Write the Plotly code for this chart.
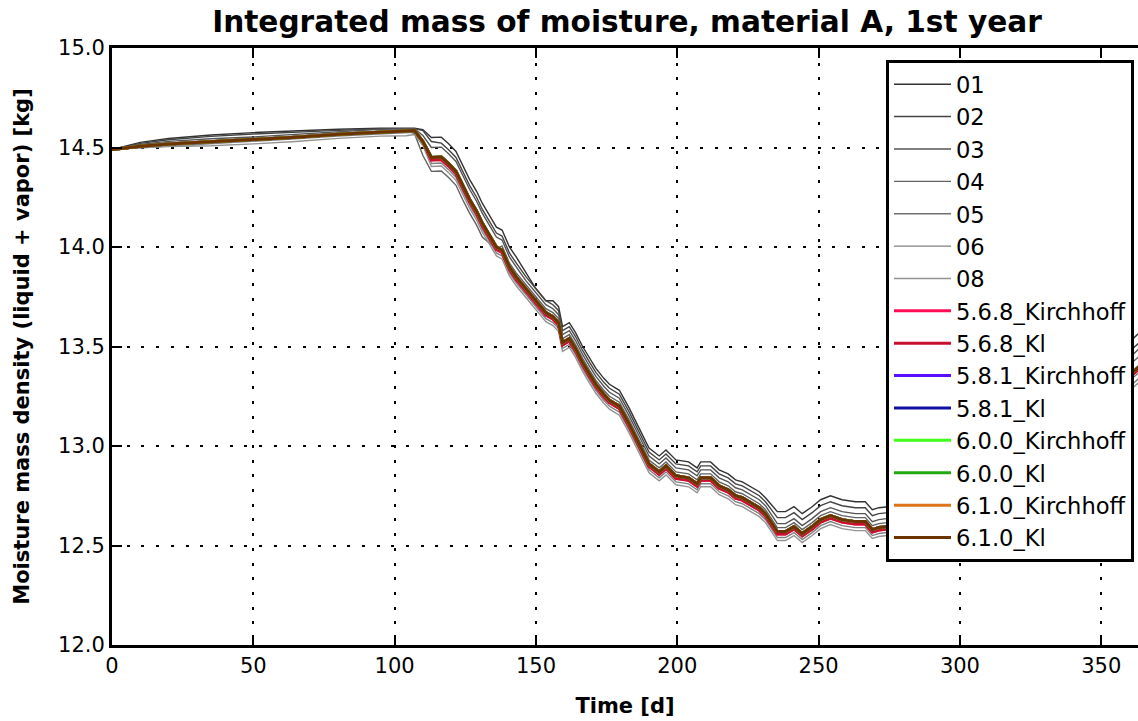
import plotly.graph_objects as go

# ---------------- data ----------------
DAYS = [0, 10, 20, 35, 50, 65, 80, 95, 104, 107,
        110, 113, 116.5, 119, 121.7, 124, 126.5, 129, 131, 133.5,
        136, 138, 140.6, 143, 146.5, 150, 153.5, 156, 158, 159.4,
        161.8, 164, 166.5, 169, 171.2, 174, 176, 179.5, 183, 186.5,
        190, 193.6, 196, 199.5, 204, 207, 208.3, 211.8, 214.8, 218,
        220.6, 223, 226.5, 229, 231.2, 235.4, 238.3, 241.3, 244.2, 247.7,
        250.7, 254.2, 258.3, 263, 266.5, 269, 271.3, 274.2, 285, 300,
        315, 330, 345, 365]

REF_01 = [14.490, 14.526, 14.545, 14.563, 14.575, 14.584, 14.592, 14.597, 14.597, 14.597,
          14.590, 14.550, 14.552, 14.520, 14.480, 14.410, 14.340, 14.280, 14.220, 14.160,
          14.100, 14.085, 14.000, 13.950, 13.870, 13.790, 13.730, 13.730, 13.700, 13.600,
          13.620, 13.570, 13.500, 13.440, 13.390, 13.340, 13.310, 13.280, 13.190, 13.090,
          12.990, 12.950, 12.980, 12.930, 12.920, 12.890, 12.920, 12.920, 12.880, 12.860,
          12.830, 12.820, 12.790, 12.770, 12.740, 12.670, 12.670, 12.695, 12.660, 12.695,
          12.730, 12.750, 12.730, 12.720, 12.720, 12.680, 12.690, 12.695, 12.710, 12.810,
          12.960, 13.120, 13.320, 13.590]
REF_02 = [14.490, 14.521, 14.539, 14.556, 14.568, 14.578, 14.586, 14.593, 14.593, 14.595,
          14.585, 14.530, 14.522, 14.490, 14.450, 14.380, 14.310, 14.250, 14.190, 14.130,
          14.070, 14.055, 13.970, 13.920, 13.850, 13.790, 13.730, 13.710, 13.680, 13.580,
          13.600, 13.550, 13.480, 13.420, 13.370, 13.320, 13.290, 13.260, 13.170, 13.070,
          12.970, 12.930, 12.960, 12.910, 12.900, 12.870, 12.900, 12.900, 12.860, 12.840,
          12.810, 12.800, 12.770, 12.750, 12.720, 12.640, 12.640, 12.665, 12.630, 12.665,
          12.700, 12.720, 12.700, 12.690, 12.690, 12.650, 12.660, 12.665, 12.680, 12.780,
          12.920, 13.080, 13.280, 13.540]
REF_03 = [14.490, 14.516, 14.531, 14.544, 14.553, 14.567, 14.581, 14.592, 14.595, 14.595,
          14.560, 14.500, 14.502, 14.470, 14.430, 14.360, 14.290, 14.230, 14.170, 14.110,
          14.050, 14.035, 13.950, 13.900, 13.830, 13.770, 13.710, 13.690, 13.660, 13.560,
          13.580, 13.530, 13.460, 13.400, 13.350, 13.300, 13.270, 13.240, 13.150, 13.050,
          12.950, 12.910, 12.940, 12.890, 12.880, 12.850, 12.880, 12.880, 12.840, 12.820,
          12.790, 12.780, 12.750, 12.730, 12.700, 12.610, 12.610, 12.635, 12.600, 12.635,
          12.670, 12.690, 12.670, 12.660, 12.660, 12.620, 12.630, 12.635, 12.655, 12.750,
          12.890, 13.050, 13.250, 13.510]
REF_04 = [14.490, 14.511, 14.522, 14.534, 14.543, 14.557, 14.571, 14.582, 14.588, 14.570,
          14.460, 14.380, 14.382, 14.350, 14.310, 14.240, 14.170, 14.110, 14.050, 14.020,
          13.990, 14.005, 13.920, 13.870, 13.810, 13.750, 13.690, 13.670, 13.640, 13.540,
          13.560, 13.510, 13.440, 13.380, 13.330, 13.280, 13.250, 13.220, 13.130, 13.030,
          12.930, 12.890, 12.920, 12.870, 12.860, 12.830, 12.860, 12.860, 12.820, 12.800,
          12.770, 12.760, 12.730, 12.710, 12.680, 12.590, 12.590, 12.615, 12.580, 12.615,
          12.650, 12.670, 12.650, 12.640, 12.640, 12.600, 12.610, 12.615, 12.640, 12.730,
          12.870, 13.020, 13.220, 13.470]
REF_05 = [14.490, 14.508, 14.519, 14.531, 14.540, 14.554, 14.568, 14.579, 14.585, 14.587,
          14.530, 14.438, 14.440, 14.408, 14.368, 14.298, 14.228, 14.168, 14.108, 14.048,
          13.988, 13.973, 13.888, 13.838, 13.778, 13.718, 13.658, 13.638, 13.608, 13.508,
          13.528, 13.478, 13.408, 13.348, 13.298, 13.248, 13.218, 13.188, 13.098, 12.998,
          12.898, 12.858, 12.888, 12.838, 12.828, 12.798, 12.828, 12.828, 12.788, 12.768,
          12.738, 12.728, 12.698, 12.678, 12.648, 12.558, 12.558, 12.583, 12.548, 12.583,
          12.618, 12.638, 12.618, 12.608, 12.608, 12.568, 12.578, 12.583, 12.595, 12.680,
          12.810, 12.955, 13.140, 13.390]
REF_06 = [14.490, 14.498, 14.509, 14.521, 14.530, 14.544, 14.558, 14.569, 14.575, 14.577,
          14.520, 14.420, 14.422, 14.390, 14.350, 14.280, 14.210, 14.150, 14.090, 14.030,
          13.970, 13.955, 13.870, 13.820, 13.760, 13.700, 13.640, 13.620, 13.590, 13.490,
          13.510, 13.460, 13.390, 13.330, 13.280, 13.230, 13.200, 13.170, 13.080, 12.980,
          12.880, 12.840, 12.870, 12.820, 12.810, 12.780, 12.810, 12.810, 12.770, 12.750,
          12.720, 12.710, 12.680, 12.660, 12.630, 12.540, 12.540, 12.565, 12.530, 12.565,
          12.600, 12.620, 12.600, 12.590, 12.590, 12.550, 12.560, 12.565, 12.575, 12.660,
          12.785, 12.930, 13.115, 13.360]
REF_08 = [14.490, 14.500, 14.505, 14.509, 14.518, 14.530, 14.546, 14.557, 14.559, 14.565,
          14.510, 14.405, 14.407, 14.375, 14.335, 14.265, 14.195, 14.135, 14.075, 14.015,
          13.955, 13.940, 13.855, 13.805, 13.745, 13.685, 13.625, 13.605, 13.575, 13.475,
          13.495, 13.445, 13.375, 13.315, 13.265, 13.215, 13.185, 13.155, 13.065, 12.965,
          12.865, 12.825, 12.855, 12.805, 12.795, 12.765, 12.795, 12.795, 12.755, 12.735,
          12.705, 12.695, 12.665, 12.645, 12.615, 12.525, 12.525, 12.550, 12.515, 12.550,
          12.585, 12.605, 12.585, 12.575, 12.575, 12.535, 12.545, 12.550, 12.560, 12.645,
          12.765, 12.910, 13.095, 13.340]

V568 = [14.490, 14.506, 14.517, 14.529, 14.538, 14.552, 14.566, 14.577, 14.583, 14.585,
        14.530, 14.438, 14.440, 14.408, 14.368, 14.298, 14.228, 14.168, 14.108, 14.048,
        13.988, 13.973, 13.888, 13.838, 13.778, 13.718, 13.658, 13.638, 13.608, 13.508,
        13.528, 13.478, 13.408, 13.348, 13.298, 13.248, 13.218, 13.188, 13.098, 12.998,
        12.898, 12.858, 12.888, 12.838, 12.828, 12.798, 12.828, 12.828, 12.788, 12.768,
        12.738, 12.728, 12.698, 12.678, 12.648, 12.558, 12.558, 12.583, 12.548, 12.583,
        12.618, 12.638, 12.618, 12.608, 12.608, 12.568, 12.578, 12.583, 12.598, 12.688,
        12.818, 12.968, 13.158, 13.408]
V6XX = [14.490, 14.506, 14.517, 14.529, 14.538, 14.552, 14.566, 14.577, 14.583, 14.585,
        14.530, 14.450, 14.452, 14.420, 14.380, 14.310, 14.240, 14.180, 14.120, 14.060,
        14.000, 13.985, 13.900, 13.850, 13.790, 13.730, 13.670, 13.650, 13.620, 13.520,
        13.540, 13.490, 13.420, 13.360, 13.310, 13.260, 13.230, 13.200, 13.110, 13.010,
        12.910, 12.870, 12.900, 12.850, 12.840, 12.810, 12.840, 12.840, 12.800, 12.780,
        12.750, 12.740, 12.710, 12.690, 12.660, 12.570, 12.570, 12.595, 12.560, 12.595,
        12.630, 12.650, 12.630, 12.620, 12.620, 12.580, 12.590, 12.595, 12.610, 12.700,
        12.830, 12.980, 13.170, 13.420]

REF_NAMES = ["01", "02", "03", "04", "05", "06", "08"]
REF_VALUES = [REF_01, REF_02, REF_03, REF_04, REF_05, REF_06, REF_08]
REF_COLORS = ["#333333", "#444444", "#555555", "#626262", "#707070", "#808080", "#939393"]

NEW_NAMES = ["5.6.8_Kirchhoff", "5.6.8_Kl", "5.8.1_Kirchhoff", "5.8.1_Kl",
             "6.0.0_Kirchhoff", "6.0.0_Kl", "6.1.0_Kirchhoff", "6.1.0_Kl"]
NEW_VALUES = [V568, V568, V6XX, V6XX, V6XX, V6XX, V6XX, V6XX]
NEW_COLORS = ["#ff0d55", "#c8102e", "#5a0dff", "#1010a8",
              "#3dff1a", "#22a812", "#dd7416", "#6b3300"]

X_TICKS = [0, 50, 100, 150, 200, 250, 300, 350]
Y_TICKS = [12.0, 12.5, 13.0, 13.5, 14.0, 14.5, 15.0]

# ---------------- figure ----------------
FONT = "DejaVu Sans"
L, T, B = 112, 48, 76
PW = 1138 - L
PH = 721 - T - B

fig = go.Figure()
for name, vals, col in zip(REF_NAMES, REF_VALUES, REF_COLORS):
    fig.add_trace(go.Scatter(x=DAYS, y=vals, name=name, mode="lines",
                             line=dict(color=col, width=1.4)))
for name, vals, col in zip(NEW_NAMES, NEW_VALUES, NEW_COLORS):
    fig.add_trace(go.Scatter(x=DAYS, y=vals, name=name, mode="lines",
                             line=dict(color=col, width=3)))

fig.update_layout(
    width=1138, height=721,
    margin=dict(l=L, r=0, t=T, b=B, autoexpand=False),
    paper_bgcolor="white", plot_bgcolor="white",
    font=dict(family=FONT, size=21, color="black"),
    title=dict(text="Integrated mass of moisture, material A, 1st year",
               x=(627 - L) / PW, xref="paper", xanchor="center",
               y=1 - 22 / 721, yref="container", yanchor="middle",
               font=dict(family=FONT, size=29.6, color="black", weight="bold")),
    showlegend=True,
    legend=dict(x=(886 - L) / PW, y=(645 - 60) / PH, xanchor="left", yanchor="top",
                bgcolor="white", bordercolor="black", borderwidth=3,
                font=dict(family=FONT, size=22.6, color="black"),
                itemwidth=57, tracegroupgap=0),
)
fig.update_xaxes(
    range=[0, 363], tickvals=X_TICKS, ticktext=[str(v) for v in X_TICKS],
    automargin=False,
    showline=True, linecolor="black", linewidth=3, mirror="ticks",
    ticks="inside", ticklen=10, tickwidth=1.5, tickcolor="black",
    showgrid=True, gridcolor="black", gridwidth=2, griddash="3px,11.7px",
    zeroline=False,
    title=dict(text="Time [d]", standoff=22,
               font=dict(family=FONT, size=21, color="black", weight="bold")),
)
fig.update_yaxes(
    range=[12, 15], tickvals=Y_TICKS, ticktext=[f"{v:.1f}" for v in Y_TICKS],
    automargin=False,
    showline=True, linecolor="black", linewidth=3, mirror=False,
    ticks="inside", ticklen=10, tickwidth=1.5, tickcolor="black",
    showgrid=True, gridcolor="black", gridwidth=2, griddash="3px,11.7px",
    zeroline=False,
    title=dict(text="Moisture mass density (liquid + vapor) [kg]", standoff=23,
               font=dict(family=FONT, size=21, color="black", weight="bold")),
)

fig.write_html("out.html", config={"displayModeBar": False},
               post_script="document.body.style.margin='0';document.body.style.padding='0';")
